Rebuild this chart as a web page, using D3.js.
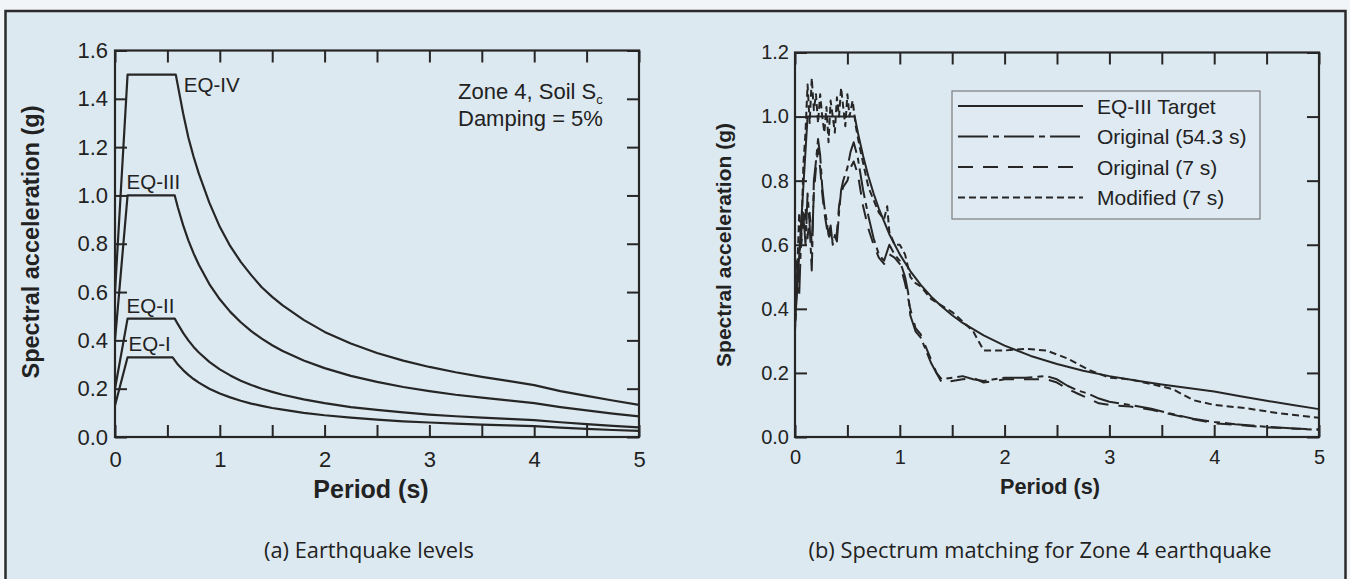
<!DOCTYPE html>
<html>
<head>
<meta charset="utf-8">
<script src="https://cdn.jsdelivr.net/npm/d3@7"></script>
<style>
  html, body { margin: 0; padding: 0; background: #f3f6f8; }
  svg { display: block; }
  text { font-family: "Liberation Sans", Arial, Helvetica, sans-serif; fill: #222; }
</style>
</head>
<body>
<svg id="fig" width="1350" height="579"></svg>
<script>
// ---------------- data: (a) earthquake levels, period (s) vs Sa (g) ----------------
const eq1 = [[0,0.13],[0.12,0.33],[0.55,0.33],[0.6,0.30],[0.65,0.277],[0.7,0.257],[0.75,0.24],[0.8,0.225],[0.9,0.20],[1.0,0.18],[1.1,0.164],[1.2,0.15],[1.3,0.138],[1.4,0.129],[1.5,0.12],[1.6,0.113],[1.8,0.10],[2.0,0.09],[2.25,0.08],[2.5,0.072],[2.75,0.065],[3.0,0.06],[3.25,0.055],[3.5,0.051],[3.75,0.048],[4.0,0.045],[4.25,0.039],[4.5,0.034],[4.75,0.029],[5.0,0.025]];
const eq2 = [[0,0.20],[0.12,0.49],[0.57,0.49],[0.6,0.467],[0.65,0.431],[0.7,0.40],[0.75,0.373],[0.8,0.35],[0.9,0.311],[1.0,0.28],[1.1,0.255],[1.2,0.233],[1.3,0.215],[1.4,0.20],[1.5,0.187],[1.6,0.175],[1.8,0.156],[2.0,0.14],[2.25,0.124],[2.5,0.112],[2.75,0.102],[3.0,0.093],[3.25,0.086],[3.5,0.08],[3.75,0.075],[4.0,0.07],[4.25,0.061],[4.5,0.053],[4.75,0.046],[5.0,0.04]];
const eq3 = [[0,0.40],[0.12,1.0],[0.57,1.0],[0.6,0.95],[0.65,0.877],[0.7,0.814],[0.75,0.76],[0.8,0.713],[0.9,0.633],[1.0,0.57],[1.1,0.518],[1.2,0.475],[1.3,0.438],[1.4,0.407],[1.5,0.38],[1.6,0.356],[1.8,0.317],[2.0,0.285],[2.25,0.253],[2.5,0.228],[2.75,0.207],[3.0,0.19],[3.25,0.175],[3.5,0.163],[3.75,0.152],[4.0,0.14],[4.25,0.124],[4.5,0.11],[4.75,0.097],[5.0,0.085]];
const eq4 = [[0,0.60],[0.12,1.5],[0.58,1.5],[0.65,1.34],[0.7,1.24],[0.75,1.16],[0.8,1.09],[0.9,0.97],[1.0,0.87],[1.1,0.79],[1.2,0.725],[1.3,0.67],[1.4,0.62],[1.5,0.58],[1.6,0.545],[1.8,0.485],[2.0,0.435],[2.25,0.387],[2.5,0.348],[2.75,0.316],[3.0,0.29],[3.25,0.268],[3.5,0.249],[3.75,0.232],[4.0,0.215],[4.25,0.19],[4.5,0.17],[4.75,0.151],[5.0,0.133]];
const levelNames = ["EQ-I", "EQ-II", "EQ-III", "EQ-IV"];
const levelSeries = [eq1, eq2, eq3, eq4];

// ---------------- data: (b) spectrum matching, period (s) vs Sa (g) ----------------
const target = [[0,0.35],[0.12,1.0],[0.57,1.0],[0.6,0.95],[0.65,0.877],[0.7,0.814],[0.75,0.76],[0.8,0.713],[0.9,0.633],[1.0,0.57],[1.1,0.518],[1.2,0.475],[1.3,0.438],[1.4,0.407],[1.5,0.38],[1.6,0.356],[1.8,0.317],[2.0,0.285],[2.25,0.253],[2.5,0.228],[2.75,0.207],[3.0,0.19],[3.25,0.176],[3.5,0.164],[3.75,0.153],[4.0,0.142],[4.25,0.127],[4.5,0.113],[4.75,0.1],[5.0,0.087]];
const original54 = [[0,0.38],[0.02,0.55],[0.04,0.44],[0.06,0.64],[0.08,0.70],[0.1,0.60],[0.12,0.76],[0.14,0.66],[0.16,0.52],[0.18,0.80],[0.2,0.86],[0.22,0.93],[0.24,0.88],[0.26,0.78],[0.28,0.72],[0.3,0.68],[0.32,0.63],[0.34,0.66],[0.36,0.60],[0.38,0.63],[0.4,0.61],[0.42,0.70],[0.44,0.77],[0.46,0.80],[0.5,0.84],[0.53,0.89],[0.56,0.92],[0.6,0.87],[0.65,0.77],[0.7,0.69],[0.75,0.62],[0.8,0.57],[0.85,0.55],[0.9,0.60],[0.95,0.57],[1.0,0.55],[1.05,0.50],[1.08,0.45],[1.1,0.38],[1.15,0.33],[1.2,0.31],[1.25,0.27],[1.3,0.23],[1.35,0.20],[1.4,0.18],[1.5,0.185],[1.6,0.19],[1.7,0.18],[1.8,0.175],[1.9,0.18],[2.0,0.185],[2.2,0.185],[2.4,0.19],[2.5,0.18],[2.6,0.16],[2.7,0.145],[2.8,0.135],[2.9,0.12],[3.0,0.11],[3.2,0.1],[3.4,0.088],[3.6,0.072],[3.8,0.057],[4.0,0.047],[4.2,0.04],[4.5,0.032],[4.8,0.026],[5.0,0.022]];
const original7 = [[0,0.34],[0.02,0.50],[0.04,0.58],[0.06,0.60],[0.08,0.66],[0.1,0.72],[0.12,0.62],[0.14,0.70],[0.16,0.60],[0.18,0.76],[0.2,0.84],[0.22,0.90],[0.24,0.84],[0.26,0.76],[0.28,0.70],[0.3,0.66],[0.32,0.62],[0.34,0.64],[0.36,0.61],[0.38,0.60],[0.4,0.64],[0.42,0.72],[0.44,0.76],[0.46,0.78],[0.5,0.80],[0.53,0.84],[0.56,0.86],[0.6,0.82],[0.65,0.72],[0.7,0.65],[0.75,0.60],[0.8,0.56],[0.85,0.54],[0.9,0.57],[0.95,0.56],[1.0,0.54],[1.05,0.48],[1.1,0.40],[1.15,0.34],[1.2,0.32],[1.25,0.28],[1.3,0.24],[1.35,0.20],[1.4,0.17],[1.5,0.175],[1.6,0.18],[1.7,0.185],[1.8,0.17],[1.9,0.175],[2.0,0.18],[2.2,0.18],[2.4,0.18],[2.5,0.17],[2.6,0.15],[2.7,0.135],[2.8,0.12],[2.9,0.105],[3.0,0.1],[3.2,0.095],[3.4,0.085],[3.6,0.07],[3.8,0.055],[4.0,0.043],[4.2,0.038],[4.5,0.03],[4.8,0.026],[5.0,0.024]];
const modified7 = [[0,0.33],[0.02,0.50],[0.04,0.70],[0.06,0.62],[0.08,0.85],[0.1,0.95],[0.12,1.10],[0.14,0.98],[0.16,1.12],[0.18,1.02],[0.2,1.07],[0.22,0.98],[0.24,1.07],[0.26,1.0],[0.28,0.95],[0.3,1.03],[0.32,0.92],[0.34,1.05],[0.36,1.0],[0.38,0.95],[0.4,1.06],[0.42,1.0],[0.44,1.09],[0.46,1.03],[0.48,0.97],[0.5,1.07],[0.52,1.0],[0.55,1.05],[0.58,0.97],[0.62,0.90],[0.66,0.84],[0.7,0.78],[0.75,0.74],[0.8,0.70],[0.85,0.68],[0.88,0.72],[0.9,0.64],[0.95,0.60],[1.0,0.60],[1.05,0.57],[1.1,0.50],[1.15,0.48],[1.2,0.47],[1.3,0.43],[1.4,0.41],[1.5,0.39],[1.6,0.36],[1.7,0.33],[1.8,0.27],[1.9,0.27],[2.0,0.27],[2.2,0.275],[2.4,0.27],[2.6,0.245],[2.8,0.21],[3.0,0.185],[3.2,0.18],[3.4,0.165],[3.6,0.15],[3.8,0.115],[4.0,0.10],[4.3,0.09],[4.6,0.075],[5.0,0.06]];
const matchNames = ["EQ-III Target", "Original (54.3 s)", "Original (7 s)", "Modified (7 s)"];
const matchSeries = [target, original54, original7, modified7];

// ---------------- tick values ----------------
const periodTicks = [0, 0.5, 1, 1.5, 2, 2.5, 3, 3.5, 4, 4.5, 5];
const periodLabels = [0, 1, 2, 3, 4, 5];
const saTicksA = [0, 0.2, 0.4, 0.6, 0.8, 1.0, 1.2, 1.4, 1.6];
const saTicksB = [0, 0.2, 0.4, 0.6, 0.8, 1.0, 1.2];

// ---------------- drawing ----------------
const svg = d3.select("#fig");
const ink = "#262626";

// page panel
svg.append("rect").attr("x", 0).attr("y", 0).attr("width", 1350).attr("height", 579).attr("fill", "#f2f5f7");
svg.append("rect")
  .attr("x", 5.5).attr("y", 11).attr("width", 1340).attr("height", 600)
  .attr("fill", "#dde9f1").attr("stroke", "#2b2b2b").attr("stroke-width", 2.5);

function drawPanel(box, yDomain, yTicks, fs) {
  const x = d3.scaleLinear().domain([0, 5]).range([box.x0, box.x1]);
  const y = d3.scaleLinear().domain(yDomain).range([box.y1, box.y0]);
  const g = svg.append("g");
  const tickLen = 12;

  const styleAxis = sel => {
    sel.select(".domain").remove();
    sel.selectAll(".tick line").attr("stroke", ink).attr("stroke-width", 2);
    sel.selectAll(".tick text").attr("fill", ink).style("font-size", fs.tick + "px")
      .style("font-family", '"Liberation Sans", Arial, sans-serif');
  };

  g.append("g").attr("transform", `translate(0,${box.y1})`)
    .call(d3.axisBottom(x).tickValues(periodTicks).tickSizeInner(-tickLen).tickSizeOuter(0)
      .tickPadding(fs.xPad).tickFormat(d => periodLabels.includes(d) ? d3.format("d")(d) : ""))
    .call(styleAxis);
  g.append("g").attr("transform", `translate(0,${box.y0})`)
    .call(d3.axisTop(x).tickValues(periodTicks).tickSizeInner(-tickLen).tickSizeOuter(0).tickFormat(""))
    .call(styleAxis);
  g.append("g").attr("transform", `translate(${box.x0},0)`)
    .call(d3.axisLeft(y).tickValues(yTicks).tickSizeInner(-tickLen).tickSizeOuter(0)
      .tickPadding(fs.yPad).tickFormat(d3.format(".1f")))
    .call(styleAxis);
  g.append("g").attr("transform", `translate(${box.x1},0)`)
    .call(d3.axisRight(y).tickValues(yTicks).tickSizeInner(-tickLen).tickSizeOuter(0).tickFormat(""))
    .call(styleAxis);

  g.append("rect")
    .attr("x", box.x0).attr("y", box.y0)
    .attr("width", box.x1 - box.x0).attr("height", box.y1 - box.y0)
    .attr("fill", "none").attr("stroke", ink).attr("stroke-width", 2.2);

  // axis titles
  g.append("text")
    .attr("x", fs.xTitleX).attr("y", fs.xTitleY)
    .attr("text-anchor", "middle").style("font-weight", "bold").style("font-size", fs.title + "px")
    .text("Period (s)");
  g.append("text")
    .attr("transform", `translate(${fs.yTitleX},${fs.yTitleY}) rotate(-90)`)
    .attr("text-anchor", "middle").style("font-weight", "bold").style("font-size", fs.ytitle + "px")
    .text("Spectral acceleration (g)");

  return { x, y, g };
}

// ---- (a) Earthquake levels ----
const A = drawPanel({ x0: 115, x1: 639, y0: 50.5, y1: 437 }, [0, 1.6], saTicksA,
  { tick: 22, xPad: 14, yPad: 7, title: 25, ytitle: 23.5, xTitleX: 371, xTitleY: 498, yTitleX: 39, yTitleY: 242 });

const lineA = d3.line().x(d => A.x(d[0])).y(d => A.y(d[1]));
A.g.selectAll("path.level").data(levelSeries).join("path")
  .attr("class", "level")
  .attr("d", lineA)
  .attr("fill", "none").attr("stroke", ink).attr("stroke-width", 2.2)
  .attr("stroke-linejoin", "round");

// curve labels: EQ-I..EQ-III sit above the left end of each plateau, EQ-IV to the right of its corner
levelSeries.forEach((s, i) => {
  const plateau = s[1];
  const corner = s[2];
  const isTop = i === levelSeries.length - 1;
  A.g.append("text")
    .attr("x", isTop ? A.x(corner[0]) + 8 : A.x(plateau[0]) - 1 + (i === 0 ? 2 : 0))
    .attr("y", isTop ? A.y(corner[1]) + 17 : A.y(plateau[1]) - 6)
    .style("font-size", "20.5px")
    .text(levelNames[i]);
});

const note = A.g.append("text").attr("x", 458).attr("y", 99).style("font-size", "22px");
note.append("tspan").text("Zone 4, Soil S");
note.append("tspan").attr("dy", 5).style("font-size", "13px").text("c");
A.g.append("text").attr("x", 458).attr("y", 126).style("font-size", "22px").text("Damping = 5%");

// ---- (b) Spectrum matching ----
const B = drawPanel({ x0: 795, x1: 1319, y0: 52.5, y1: 437 }, [0, 1.2], saTicksB,
  { tick: 20, xPad: 13, yPad: 6, title: 21.7, ytitle: 21, xTitleX: 1050, xTitleY: 494, yTitleX: 731, yTitleY: 245 });

const dashes = [null, "30,5,6,5", "15,10", "7,4"];
const lineB = d3.line().x(d => B.x(d[0])).y(d => B.y(d[1]));
B.g.selectAll("path.match").data(matchSeries).join("path")
  .attr("class", "match")
  .attr("d", lineB)
  .attr("fill", "none").attr("stroke", ink).attr("stroke-width", 2)
  .attr("stroke-dasharray", (d, i) => dashes[i])
  .attr("stroke-linejoin", "round");

// legend
const leg = B.g.append("g");
leg.append("rect").attr("x", 952).attr("y", 91).attr("width", 308).attr("height", 128)
  .attr("fill", "#dfeaf2").attr("stroke", "#7c7c7c").attr("stroke-width", 1.2);
matchNames.forEach((name, i) => {
  const ry = 106 + i * 30.5;
  leg.append("line").attr("x1", 958).attr("x2", 1083).attr("y1", ry).attr("y2", ry)
    .attr("stroke", ink).attr("stroke-width", 2).attr("stroke-dasharray", dashes[i]);
  leg.append("text").attr("x", 1097).attr("y", ry).attr("dy", "0.36em")
    .style("font-size", "21px").text(name);
});

// captions
const cap = svg.append("g");
cap.append("text").attr("x", 369).attr("y", 558).attr("text-anchor", "middle")
  .style("font-family", '"Open Sans", sans-serif').style("font-size", "21.8px").attr("fill", "#333")
  .text("(a) Earthquake levels");
cap.append("text").attr("x", 1040).attr("y", 558).attr("text-anchor", "middle")
  .style("font-family", '"Open Sans", sans-serif').style("font-size", "21.8px").attr("fill", "#333")
  .text("(b) Spectrum matching for Zone 4 earthquake");
</script>
</body>
</html>
